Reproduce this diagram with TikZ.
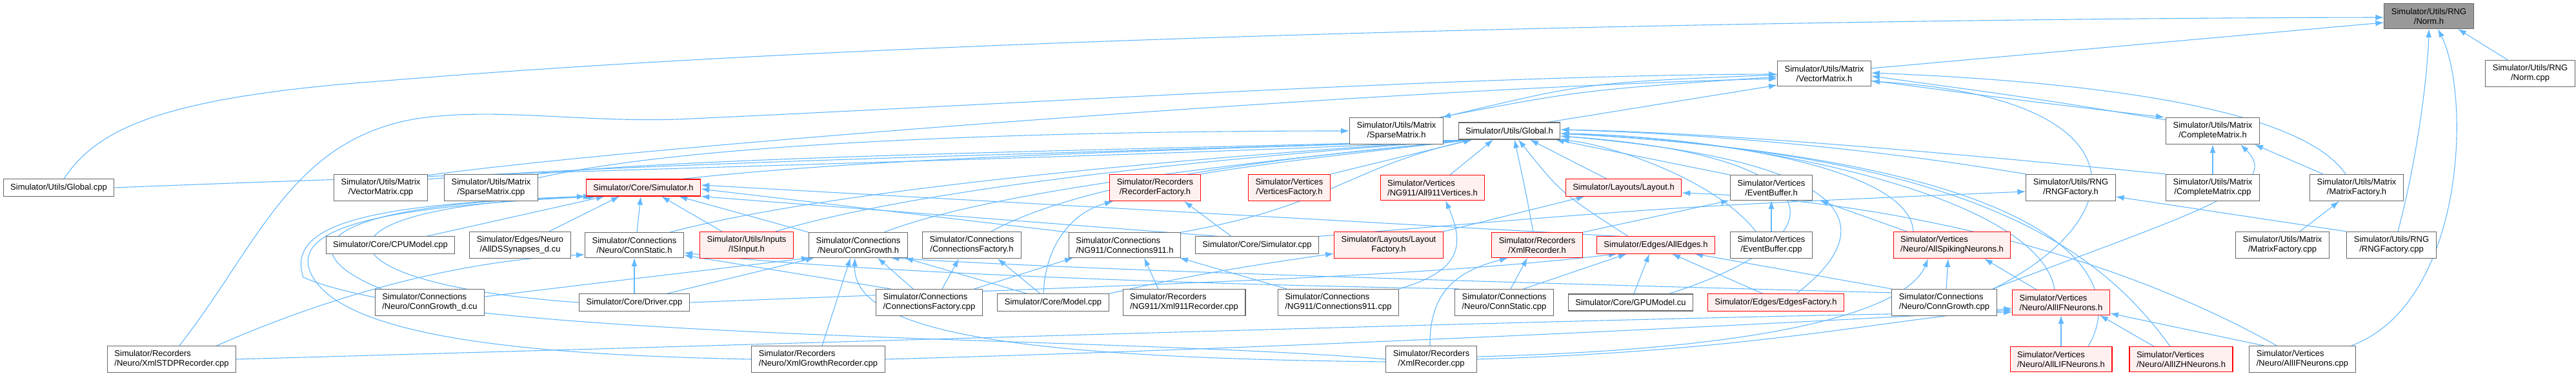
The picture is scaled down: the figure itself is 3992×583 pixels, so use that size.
\documentclass[tikz,border=0pt]{standalone}
\usepackage{fontspec}
\setmainfont{Liberation Sans}
\usetikzlibrary{arrows.meta,backgrounds}
\definecolor{edgeblue}{HTML}{63B8FF}
\definecolor{boxgrey}{HTML}{666666}
\definecolor{rootgrey}{HTML}{999999}
\definecolor{truncfill}{HTML}{FFF0F0}
\tikzset{
  fnode/.style={rectangle, draw=boxgrey, line width=1.1pt, fill=white, align=center,
                inner xsep=11pt, inner ysep=7pt, minimum height=26pt,
                font=\fontsize{13}{15}\selectfont},
  fnodel/.style={fnode, align=left},
  trunc/.style={fnode, draw=red, fill=truncfill},
  truncl/.style={trunc, align=left},
  rootn/.style={fnode, fill=rootgrey},
  inc/.style={-{Latex[length=13pt,width=9pt]}, draw=edgeblue, line width=1.1pt},
}

\begin{document}
\begin{tikzpicture}[x=1pt,y=-1pt]
\useasboundingbox (0,0) rectangle (3992,583);

% ===================== rank 0 / 1 / 2 =====================
\node[rootn] (normh) at (3764,25) {Simulator/Utils/RNG\\/Norm.h};
\node[fnode] (vmh) at (2827,114) {Simulator/Utils/Matrix\\/VectorMatrix.h};
\node[fnode] (normcpp) at (3921,114) {Simulator/Utils/RNG\\/Norm.cpp};
\node[fnode] (smh) at (2164,203) {Simulator/Utils/Matrix\\/SparseMatrix.h};
\node[fnode] (gh) at (2339,203) {Simulator/Utils/Global.h};
\node[fnode] (cmh) at (3429,203) {Simulator/Utils/Matrix\\/CompleteMatrix.h};

% ===================== rank 3 =====================
\node[fnode] (gcpp) at (91,291) {Simulator/Utils/Global.cpp};
\node[fnode] (vmcpp) at (590,291) {Simulator/Utils/Matrix\\/VectorMatrix.cpp};
\node[fnode] (smcpp) at (761,291) {Simulator/Utils/Matrix\\/SparseMatrix.cpp};
\node[trunc] (simh) at (997,291) {Simulator/Core/Simulator.h};
\node[trunc] (recfh) at (1790,291) {Simulator/Recorders\\/RecorderFactory.h};
\node[trunc] (vertfh) at (1998,291) {Simulator/Vertices\\/VerticesFactory.h};
\node[truncl] (v911h) at (2220,291) {Simulator/Vertices\\/NG911/All911Vertices.h};
\node[trunc] (layh) at (2516,291) {Simulator/Layouts/Layout.h};
\node[fnode] (ebh) at (2745,291) {Simulator/Vertices\\/EventBuffer.h};
\node[fnode] (rngfh) at (3209,291) {Simulator/Utils/RNG\\/RNGFactory.h};
\node[fnode] (cmcpp) at (3429,291) {Simulator/Utils/Matrix\\/CompleteMatrix.cpp};
\node[fnode] (mfh) at (3652,291) {Simulator/Utils/Matrix\\/MatrixFactory.h};

% ===================== rank 4 =====================
\node[fnode] (cpucpp) at (605,380) {Simulator/Core/CPUModel.cpp};
\node[fnode] (dscu) at (806,380) {Simulator/Edges/Neuro\\/AllDSSynapses\_d.cu};
\node[fnode] (csh) at (983,380) {Simulator/Connections\\/Neuro/ConnStatic.h};
\node[trunc] (isinh) at (1157,380) {Simulator/Utils/Inputs\\/ISInput.h};
\node[fnode] (cgh) at (1330,380) {Simulator/Connections\\/Neuro/ConnGrowth.h};
\node[fnode] (cfh) at (1506,380) {Simulator/Connections\\/ConnectionsFactory.h};
\node[fnodel] (c911h) at (1743,380) {Simulator/Connections\\/NG911/Connections911.h};
\node[fnode] (simcpp) at (1948,380) {Simulator/Core/Simulator.cpp};
\node[trunc] (layfh) at (2152,380) {Simulator/Layouts/Layout\\Factory.h};
\node[trunc] (xrh) at (2382,380) {Simulator/Recorders\\/XmlRecorder.h};
\node[trunc] (aeh) at (2566,380) {Simulator/Edges/AllEdges.h};
\node[fnode] (ebcpp) at (2745,380) {Simulator/Vertices\\/EventBuffer.cpp};
\node[truncl] (asnh) at (3025,380) {Simulator/Vertices\\/Neuro/AllSpikingNeurons.h};
\node[fnode] (mfcpp) at (3537,380) {Simulator/Utils/Matrix\\/MatrixFactory.cpp};
\node[fnode] (rngfcpp) at (3706,380) {Simulator/Utils/RNG\\/RNGFactory.cpp};

% ===================== rank 5 =====================
\node[fnodel] (cgdcu) at (666,469) {Simulator/Connections\\/Neuro/ConnGrowth\_d.cu};
\node[fnode] (drvcpp) at (983,469) {Simulator/Core/Driver.cpp};
\node[fnodel] (cfcpp) at (1440,469) {Simulator/Connections\\/ConnectionsFactory.cpp};
\node[fnode] (modcpp) at (1632,469) {Simulator/Core/Model.cpp};
\node[fnodel] (x911cpp) at (1835,469) {Simulator/Recorders\\/NG911/Xml911Recorder.cpp};
\node[fnodel] (c911cpp) at (2074,469) {Simulator/Connections\\/NG911/Connections911.cpp};
\node[fnodel] (cscpp) at (2331,469) {Simulator/Connections\\/Neuro/ConnStatic.cpp};
\node[fnode] (gpucu) at (2527,469) {Simulator/Core/GPUModel.cu};
\node[trunc] (efh) at (2752,469) {Simulator/Edges/EdgesFactory.h};
\node[fnodel] (cgcpp) at (3013,469) {Simulator/Connections\\/Neuro/ConnGrowth.cpp};
\node[truncl] (aifh) at (3194,469) {Simulator/Vertices\\/Neuro/AllIFNeurons.h};

% ===================== rank 6 =====================
\node[fnodel] (xstdp) at (266,557) {Simulator/Recorders\\/Neuro/XmlSTDPRecorder.cpp};
\node[fnodel] (xgrow) at (1268,557) {Simulator/Recorders\\/Neuro/XmlGrowthRecorder.cpp};
\node[fnode] (xrcpp) at (2218,557) {Simulator/Recorders\\/XmlRecorder.cpp};
\node[truncl] (alifh) at (3194,557) {Simulator/Vertices\\/Neuro/AllLIFNeurons.h};
\node[truncl] (aizhh) at (3380,557) {Simulator/Vertices\\/Neuro/AllIZHNeurons.h};
\node[fnodel] (aifcpp) at (3568,557) {Simulator/Vertices\\/Neuro/AllIFNeurons.cpp};

\begin{scope}[on background layer]
% ===================== into Norm.h =====================
\draw[inc] ([yshift=8pt]vmh.east) -- ([yshift=-10pt]normh.west);
\draw[inc] ([xshift=8pt]gcpp.north) .. controls (150,200) and (250,150) .. (600,125)
  .. controls (1500,50) and (3000,28) .. ([yshift=-2pt]normh.west);
\draw[inc] ([xshift=-35pt]normcpp.north) -- ([xshift=45pt]normh.south);
\draw[inc] ([xshift=10pt]rngfcpp.north) .. controls (3745,250) and (3762,120) .. (normh.south);
\draw[inc] ([xshift=76pt]aifcpp.north) .. controls (3820,470) and (3830,150) .. ([xshift=14pt]normh.south);

% ===================== into VectorMatrix.h =====================
\draw[inc] ([xshift=12pt]xstdp.north) .. controls (400,380) and (450,220) .. (640,185)
  .. controls (760,165) and (900,190) .. (1050,185)
  .. controls (1600,160) and (2300,116) .. ([yshift=-1pt]vmh.west);
\draw[inc] ([yshift=-2pt]vmcpp.north east) .. controls (1000,225) and (2200,135) .. ([yshift=-8pt]vmh.west);
\draw[inc] ([xshift=-6pt]smh.north east) .. controls (2450,140) .. ([yshift=-5pt]vmh.west);
\draw[inc] ([yshift=-2pt]vmh.west) .. controls (2460,128) .. ([xshift=-2pt]smh.north east);
\draw[inc] ([xshift=60pt]gh.north) -- ([yshift=-18pt]vmh.west);
\draw[inc] ([yshift=-4pt]cmh.north west) .. controls (3150,152) .. ([yshift=-4pt]vmh.east);
\draw[inc] ([yshift=-11pt]vmh.east) .. controls (3150,158) .. ([xshift=-2pt]cmh.north west);
\draw[inc] ([xshift=-17pt]mfh.north) .. controls (3560,160) and (3200,125) .. ([yshift=1pt]vmh.east);
\draw[inc] ([xshift=76pt]cgcpp.north) .. controls (3320,330) and (3310,150) .. ([yshift=-12pt]vmh.east);

% ===================== into SparseMatrix.h / Global.h =====================
\draw[inc] ([yshift=-6pt]smcpp.north east) .. controls (1100,215) and (1700,203) .. (smh.west);
\draw[inc] (gcpp.east) .. controls (900,262) and (1900,240) .. ([xshift=22pt]gh.south west);
\draw[inc] ([yshift=-8pt]vmcpp.north east) .. controls (1000,250) and (1900,232) .. ([xshift=22pt]gh.south west);
\draw[inc] (smcpp.north east) .. controls (1100,240) and (1900,230) .. ([xshift=22pt]gh.south west);
\draw[inc] ([xshift=60pt]simh.north) .. controls (1400,240) and (1900,232) .. ([xshift=22pt]gh.south west);
\draw[inc] ([xshift=55pt]csh.north) .. controls (1300,290) and (1900,240) .. ([xshift=22pt]gh.south west);
\draw[inc] ([xshift=45pt]isinh.north) .. controls (1450,285) and (1950,240) .. ([xshift=22pt]gh.south west);
\draw[inc] ([xshift=40pt]cgh.north) .. controls (1550,290) and (2000,245) .. ([xshift=22pt]gh.south west);
\draw[inc] ([xshift=30pt]cfh.north) .. controls (1700,270) and (2050,240) .. ([xshift=22pt]gh.south west);
\draw[inc] (recfh.north east) .. controls (1980,250) and (2150,232) .. ([xshift=22pt]gh.south west);
\draw[inc] (vertfh.north east) -- ([xshift=22pt]gh.south west);
\draw[inc] ([xshift=87pt]c911h.north) .. controls (2060,320) and (2090,260) .. ([xshift=22pt]gh.south west);
\draw[inc] ([xshift=27pt]v911h.north) -- ([xshift=-25pt]gh.south);
\draw[inc] ([xshift=-6pt]xrh.north) .. controls (2365,300) .. ([xshift=8pt]gh.south);
\draw[inc] ([xshift=-43pt]aeh.north) .. controls (2420,300) .. ([xshift=14pt]gh.south);
\draw[inc] ([xshift=-26pt]layh.north) -- ([xshift=32pt]gh.south);
\draw[inc] (ebh.north west) -- ([xshift=-8pt]gh.south east);
\draw[inc] ([xshift=-24pt]ebcpp.north) .. controls (2660,280) and (2500,225) .. (gh.south east);
\draw[inc] (rngfh.north west) .. controls (2900,230) and (2650,208) .. ([yshift=2pt]gh.east);
\draw[inc] (cmcpp.north west) .. controls (3000,235) and (2650,205) .. ([yshift=2pt]gh.east);
\draw[inc] ([xshift=-60pt]asnh.north) .. controls (2960,260) and (2650,212) .. ([yshift=-4pt]gh.east);
\draw[inc] ([xshift=-10pt]aifh.north) .. controls (3160,300) and (2700,212) .. ([yshift=-4pt]gh.east);
\draw[inc] ([xshift=42pt]alifh.north) .. controls (3300,430) and (3200,250) .. ([yshift=-4pt]gh.east);
\draw[inc] ([xshift=-17pt]aizhh.north) .. controls (3250,380) and (3050,240) .. ([yshift=-4pt]gh.east);
\draw[inc] ([xshift=60pt]gpucu.north) .. controls (2880,360) and (2830,240) .. ([yshift=-8pt]gh.east);
\draw[inc] ([xshift=32pt]efh.north) .. controls (2920,350) and (2880,250) .. ([yshift=-8pt]gh.east);

% ===================== into Simulator.h =====================
\draw[inc] ([xshift=56pt]cpucpp.north) -- ([xshift=-60pt]simh.south);
\draw[inc] ([xshift=45pt]dscu.north) -- ([xshift=-37pt]simh.south);
\draw[inc] ([xshift=4pt]csh.north) -- ([xshift=-4pt]simh.south);
\draw[inc] ([xshift=-38pt]isinh.north) -- ([xshift=28pt]simh.south);
\draw[inc] (cgh.north west) -- ([xshift=55pt]simh.south);
\draw[inc] (c911h.north west) -- ([yshift=-2pt]simh.east);
\draw[inc] ([xshift=-60pt]simcpp.north) -- (simh.south east);
\draw[inc] ([xshift=-56pt]aeh.north) -- ([yshift=4pt]simh.east);
\draw[inc] ([xshift=-75pt]cgdcu.north) .. controls (470,400) and (440,320) .. ([xshift=-90pt]simh.south);
\draw[inc] (drvcpp.west) .. controls (480,440) and (450,320) .. ([xshift=-80pt]simh.south);
\draw[inc] (xgrow.west) .. controls (800,550) and (520,520) .. (480,420)
  .. controls (455,350) and (600,320) .. ([xshift=-72pt]simh.south);
\draw[inc] (xrcpp.west) .. controls (1700,520) and (700,530) .. (470,430)
  .. controls (440,340) and (600,315) .. ([xshift=-76pt]simh.south);

% ===================== lower ranks =====================
\draw[inc] ([xshift=70pt]xstdp.north) .. controls (600,420) and (800,400) .. ([yshift=5pt]csh.south west);
\draw[inc] (xstdp.east) .. controls (1500,525) and (2600,490) .. ([yshift=-15pt]aifh.west);
\draw[inc] (xgrow.east) .. controls (2000,540) and (2800,500) .. ([yshift=-12pt]aifh.west);
\draw[inc] (xrcpp.east) .. controls (2700,545) and (2900,500) .. ([yshift=-9pt]aifh.west);
\draw[inc] ([xshift=-2pt]xrcpp.north) .. controls (2215,450) and (2260,420) .. ([xshift=-45pt]xrh.south);
\draw[inc] ([yshift=4pt]xrcpp.east) .. controls (2800,540) and (2960,470) .. ([xshift=-37pt]asnh.south);
\draw[inc] ([yshift=-4pt]xrcpp.west) .. controls (1600,555) and (1320,520) .. ([xshift=-5pt]cgh.south);
\draw[inc] ([xshift=6pt]xgrow.north) -- ([xshift=-12pt]cgh.south);
\draw[inc] ([yshift=9pt]cgdcu.east) .. controls (1000,430) .. ([xshift=-75pt]cgh.south);
\draw[inc] ([xshift=50pt]drvcpp.north) -- ([xshift=-68pt]cgh.south);
\draw[inc] (drvcpp.north) -- (csh.south);
\draw[inc] (drvcpp.east) .. controls (1800,440) and (2200,430) .. ([xshift=-60pt]aeh.south);
\draw[inc] ([xshift=20pt]cfcpp.north) -- ([xshift=-20pt]cfh.south);
\draw[inc] ([xshift=-60pt]cfcpp.north) -- ([yshift=4pt]csh.south east);
\draw[inc] ([xshift=-25pt]cfcpp.north) -- ([xshift=30pt]cgh.south);
\draw[inc] ([xshift=70pt]cfcpp.north) -- ([xshift=-80pt]c911h.south);
\draw[inc] ([xshift=-40pt]modcpp.north) -- ([xshift=72pt]cgh.south);
\draw[inc] ([xshift=-20pt]modcpp.north) -- ([xshift=40pt]cfh.south);
\draw[inc] ([xshift=-15pt]modcpp.north) .. controls (1620,380) and (1660,330) .. ([xshift=-65pt]recfh.south);
\draw[inc] (modcpp.north east) .. controls (1850,425) and (1950,410) .. ([yshift=8pt]layfh.south west);
\draw[inc] ([xshift=-40pt]x911cpp.north) -- ([xshift=30pt]c911h.south);
\draw[inc] ([xshift=-80pt]c911cpp.north) -- ([xshift=85pt]c911h.south);
\draw[inc] (c911cpp.north east) .. controls (2265,420) and (2270,380) .. ([xshift=20pt]v911h.south);
\draw[inc] ([xshift=-70pt]cscpp.north) .. controls (1800,440) and (1300,420) .. ([yshift=8pt]csh.south east);
\draw[inc] ([xshift=30pt]cscpp.north) -- ([xshift=-45pt]aeh.south);
\draw[inc] ([xshift=10pt]cscpp.north) -- ([xshift=-15pt]xrh.south);
\draw[inc] ([xshift=5pt]gpucu.north) -- ([xshift=-10pt]aeh.south);
\draw[inc] ([xshift=-20pt]efh.north) -- ([xshift=25pt]aeh.south);
\draw[inc] (cgcpp.north west) -- ([xshift=60pt]aeh.south);
\draw[inc] ([yshift=-6pt]cgcpp.north west) .. controls (2400,440) and (1700,420) .. ([xshift=50pt]cgh.south);
\draw[inc] ([xshift=3pt]cgcpp.north) -- ([xshift=-6pt]asnh.south);
\draw[inc] ([xshift=75pt]cgcpp.north) .. controls (3400,330) and (3540,290) .. ([xshift=43pt]cmh.south);
\draw[inc] ([xshift=-38pt]aifh.north) -- ([xshift=50pt]asnh.south);
\draw[inc] (alifh.north) -- (aifh.south);
\draw[inc] ([xshift=-42pt]aizhh.north) -- ([xshift=60pt]aifh.south);
\draw[inc] ([xshift=-60pt]aifcpp.north) -- ([yshift=3pt]aifh.south east);
\draw[inc] ([xshift=-40pt]aifcpp.north) .. controls (3250,380) and (2900,310) .. ([yshift=-8pt]layh.east);
\draw[inc] ([xshift=-70pt]asnh.north) -- ([xshift=75pt]ebh.south);
\draw[inc] (ebcpp.north) -- (ebh.south);
\draw[inc] (layfh.north east) -- ([xshift=-60pt]layh.south);
\draw[inc] (xrh.north east) -- ([xshift=-65pt]ebh.south);
\draw[inc] ([xshift=-40pt]simcpp.north) -- ([xshift=45pt]recfh.south);
\draw[inc] (simcpp.north east) .. controls (2600,320) .. ([yshift=-6pt]rngfh.west);
\draw[inc] ([xshift=-70pt]rngfcpp.north) -- ([yshift=-14pt]rngfh.east);
\draw[inc] ([xshift=27pt]mfcpp.north) -- ([xshift=-27pt]mfh.south);
\draw[inc] ([xshift=-52pt]mfh.north) -- ([xshift=65pt]cmh.south);
\draw[inc] (cmcpp.north) -- (cmh.south);
\end{scope}

\end{tikzpicture}
\end{document}
